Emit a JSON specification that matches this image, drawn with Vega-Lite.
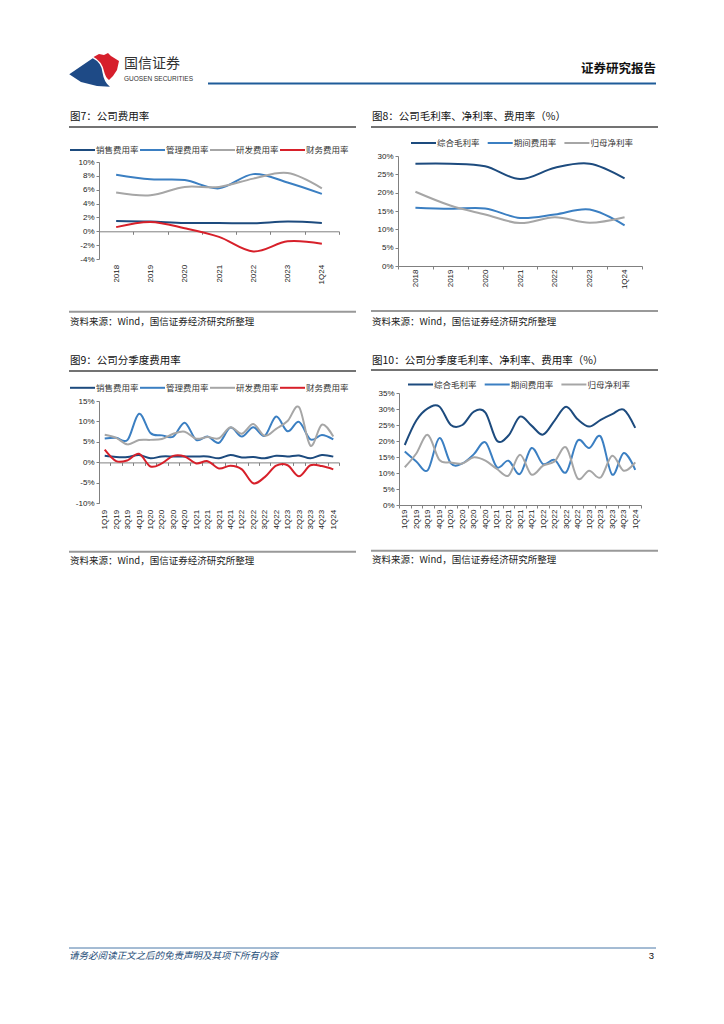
{
  "$schema": "https://vega.github.io/schema/vega-lite/v6.json",
  "padding": {"left": 68, "top": 48, "right": 69, "bottom": 54},
  "background": "white",
  "spacing": 0,
  "resolve": {"scale": {"color": "independent"}},
  "config": {
    "view": {"stroke": null},
    "axis": {"labelFont": "Liberation Sans", "labelFontSize": 8, "labelColor": "#222", "domainColor": "#808080", "tickColor": "#808080", "tickSize": 3, "grid": false, "labelPadding": 2, "domainWidth": 1, "tickWidth": 1},
    "legend": {"symbolType": "stroke", "symbolSize": 625, "symbolStrokeWidth": 2, "labelFont": "Noto Sans CJK SC", "labelFontSize": 8.5, "labelColor": "#333", "labelOffset": 0, "padding": 0, "rowPadding": 0}
  },
  "datasets": {
    "fy": [
      {"period": "2018", "销售费用率": 1.5, "管理费用率": 8.15, "研发费用率": 5.6, "财务费用率": 0.6},
      {"period": "2019", "销售费用率": 1.4, "管理费用率": 7.5, "研发费用率": 5.2, "财务费用率": 1.35},
      {"period": "2020", "销售费用率": 1.2, "管理费用率": 7.4, "研发费用率": 6.4, "财务费用率": 0.45},
      {"period": "2021", "销售费用率": 1.2, "管理费用率": 6.2, "研发费用率": 6.4, "财务费用率": -0.8},
      {"period": "2022", "销售费用率": 1.15, "管理费用率": 8.25, "研发费用率": 7.6, "财务费用率": -2.9},
      {"period": "2023", "销售费用率": 1.4, "管理费用率": 7.05, "研发费用率": 8.4, "财务费用率": -1.45},
      {"period": "1Q24", "销售费用率": 1.2, "管理费用率": 5.4, "研发费用率": 6.2, "财务费用率": -1.8}
    ],
    "fm": [
      {"period": "2018", "综合毛利率": 27.9, "期间费用率": 15.9, "归母净利率": 20.25},
      {"period": "2019", "综合毛利率": 27.9, "期间费用率": 15.6, "归母净利率": 16.5},
      {"period": "2020", "综合毛利率": 27.2, "期间费用率": 15.7, "归母净利率": 14.05},
      {"period": "2021", "综合毛利率": 23.7, "期间费用率": 13.1, "归母净利率": 11.7},
      {"period": "2022", "综合毛利率": 26.8, "期间费用率": 14.05, "归母净利率": 13.3},
      {"period": "2023", "综合毛利率": 27.9, "期间费用率": 15.4, "归母净利率": 11.8},
      {"period": "1Q24", "综合毛利率": 23.9, "期间费用率": 11.1, "归母净利率": 13.3}
    ],
    "qe": [
      {"period": "1Q19", "销售费用率": 1.6, "管理费用率": 5.85, "研发费用率": 6.75, "财务费用率": 3.1},
      {"period": "2Q19", "销售费用率": 1.3, "管理费用率": 6.0, "研发费用率": 6.0, "财务费用率": 0.3},
      {"period": "3Q19", "销售费用率": 1.3, "管理费用率": 5.5, "研发费用率": 4.4, "财务费用率": 0.5},
      {"period": "4Q19", "销售费用率": 1.8, "管理费用率": 11.9, "研发费用率": 5.45, "财务费用率": 2.1},
      {"period": "1Q20", "销售费用率": 1.0, "管理费用率": 7.2, "研发费用率": 5.5, "财务费用率": -1.0},
      {"period": "2Q20", "销售费用率": 1.45, "管理费用率": 6.6, "研发费用率": 5.7, "财务费用率": -0.25},
      {"period": "3Q20", "销售费用率": 1.45, "管理费用率": 6.3, "研发费用率": 7.0, "财务费用率": 1.6},
      {"period": "4Q20", "销售费用率": 1.45, "管理费用率": 9.7, "研发费用率": 7.5, "财务费用率": 1.45},
      {"period": "1Q21", "销售费用率": 1.45, "管理费用率": 5.5, "研发费用率": 5.8, "财务费用率": -0.25},
      {"period": "2Q21", "销售费用率": 1.45, "管理费用率": 6.3, "研发费用率": 6.2, "财务费用率": 0.3},
      {"period": "3Q21", "销售费用率": 1.0, "管理费用率": 4.8, "研发费用率": 5.9, "财务费用率": -1.5},
      {"period": "4Q21", "销售费用率": 1.8, "管理费用率": 8.5, "研发费用率": 8.6, "财务费用率": -0.8},
      {"period": "1Q22", "销售费用率": 1.2, "管理费用率": 6.3, "研发费用率": 7.0, "财务费用率": -1.7},
      {"period": "2Q22", "销售费用率": 1.3, "管理费用率": 8.6, "研发费用率": 9.35, "财务费用率": -5.1},
      {"period": "3Q22", "销售费用率": 1.0, "管理费用率": 6.5, "研发费用率": 6.5, "财务费用率": -3.6},
      {"period": "4Q22", "销售费用率": 1.6, "管理费用率": 11.2, "研发费用率": 8.2, "财务费用率": -0.8},
      {"period": "1Q23", "销售费用率": 1.45, "管理费用率": 7.6, "研发费用率": 10.1, "财务费用率": -0.7},
      {"period": "2Q23", "销售费用率": 1.7, "管理费用率": 9.9, "研发费用率": 13.5, "财务费用率": -3.4},
      {"period": "3Q23", "销售费用率": 1.0, "管理费用率": 5.6, "研发费用率": 4.1, "财务费用率": -0.7},
      {"period": "4Q23", "销售费用率": 1.8, "管理费用率": 6.7, "研发费用率": 9.2, "财务费用率": -0.9},
      {"period": "1Q24", "销售费用率": 1.4, "管理费用率": 5.6, "研发费用率": 6.3, "财务费用率": -1.7}
    ],
    "qm": [
      {"period": "1Q19", "综合毛利率": 18.75, "期间费用率": 16.7, "归母净利率": 11.8},
      {"period": "2Q19", "综合毛利率": 26.4, "期间费用率": 13.6, "归母净利率": 16.1},
      {"period": "3Q19", "综合毛利率": 30.2, "期间费用率": 10.9, "归母净利率": 21.9},
      {"period": "4Q19", "综合毛利率": 30.8, "期间费用率": 20.9, "归母净利率": 14.1},
      {"period": "1Q20", "综合毛利率": 25.0, "期间费用率": 13.0, "归母净利率": 13.3},
      {"period": "2Q20", "综合毛利率": 25.0, "期间费用率": 13.0, "归母净利率": 13.0},
      {"period": "3Q20", "综合毛利率": 29.2, "期间费用率": 15.9, "归母净利率": 14.9},
      {"period": "4Q20", "综合毛利率": 28.9, "期间费用率": 19.6, "归母净利率": 13.85},
      {"period": "1Q21", "综合毛利率": 20.1, "期间费用率": 11.8, "归母净利率": 11.25},
      {"period": "2Q21", "综合毛利率": 21.7, "期间费用率": 13.85, "归母净利率": 9.2},
      {"period": "3Q21", "综合毛利率": 27.6, "期间费用率": 9.7, "归母净利率": 15.7},
      {"period": "4Q21", "综合毛利率": 24.8, "期间费用率": 17.8, "归母净利率": 9.5},
      {"period": "1Q22", "综合毛利率": 22.0, "期间费用率": 12.8, "归母净利率": 12.3},
      {"period": "2Q22", "综合毛利率": 26.4, "期间费用率": 14.1, "归母净利率": 13.6},
      {"period": "3Q22", "综合毛利率": 30.7, "期间费用率": 10.2, "归母净利率": 18.0},
      {"period": "4Q22", "综合毛利率": 26.8, "期间费用率": 20.1, "归母净利率": 8.3},
      {"period": "1Q23", "综合毛利率": 24.5, "期间费用率": 17.8, "归母净利率": 10.7},
      {"period": "2Q23", "综合毛利率": 26.6, "期间费用率": 21.4, "归母净利率": 8.6},
      {"period": "3Q23", "综合毛利率": 28.4, "期间费用率": 9.5, "归母净利率": 15.4},
      {"period": "4Q23", "综合毛利率": 29.8, "期间费用率": 16.25, "归母净利率": 10.7},
      {"period": "1Q24", "综合毛利率": 24.1, "期间费用率": 11.0, "归母净利率": 13.3}
    ]
  },
  "vconcat": [
    {
      "width": 557, "height": 40,
      "data": {"values": [{}]},
      "layer": [
        {"mark": {"type": "point", "shape": "M-0.99,0.17L-0.05,-0.47Q0.3,-0.3 0.34,0.1Q0.4,0.5 0.64,0.67L0.12,0.64L-0.52,0.48Z", "filled": true, "color": "#1E4A86", "opacity": 1, "size": 2500, "strokeWidth": 0},
         "encoding": {"x": {"datum": 93, "type": "quantitative", "scale": {"domain": [98, 655], "nice": false, "zero": false}, "axis": null},
                      "y": {"datum": 22, "type": "quantitative", "scale": {"domain": [0, 40], "nice": false, "zero": false, "reverse": true}, "axis": null}}},
        {"mark": {"type": "point", "shape": "M-0.02,-0.52L0.2,-0.64L0.4,-0.6L0.56,-0.68L0.68,-0.56L1,-0.36L0.92,0L0.76,0.24L0.6,0.4Q0.46,0.3 0.4,0.05Q0.32,-0.35 -0.02,-0.52Z", "filled": true, "color": "#D61F2C", "opacity": 1, "size": 2500, "strokeWidth": 0},
         "encoding": {"x": {"datum": 93, "type": "quantitative"}, "y": {"datum": 22, "type": "quantitative"}}},
        {"mark": {"type": "text", "text": "国信证券", "align": "left", "baseline": "middle", "font": "Noto Sans CJK SC", "fontSize": 14, "color": "#333"},
         "encoding": {"x": {"datum": 123, "type": "quantitative"}, "y": {"datum": 15.5, "type": "quantitative"}}},
        {"mark": {"type": "text", "text": "GUOSEN SECURITIES", "align": "left", "baseline": "middle", "font": "Liberation Sans", "fontSize": 6.5, "color": "#333"},
         "encoding": {"x": {"datum": 123, "type": "quantitative"}, "y": {"datum": 31, "type": "quantitative"}}},
        {"mark": {"type": "text", "text": "证券研究报告", "align": "right", "baseline": "middle", "font": "Noto Sans CJK SC", "fontSize": 12.5, "fontWeight": "bold", "color": "#111"},
         "encoding": {"x": {"datum": 655, "type": "quantitative"}, "y": {"datum": 21, "type": "quantitative"}}},
        {"mark": {"type": "rule", "color": "#1F5C99", "strokeWidth": 2},
         "encoding": {"x": {"datum": 207, "type": "quantitative"}, "x2": {"datum": 655}, "y": {"datum": 35.5, "type": "quantitative"}}}
      ]
    },
    {
      "hconcat": [
        {
          "spacing": 0,
          "resolve": {"scale": {"color": "independent"}},
          "vconcat": [
            {
              "width": 240, "height": 47.5,
              "data": {"values": [{}]},
              "layer": [
                {"mark": {"type": "text", "text": "图7：公司费用率", "align": "left", "baseline": "middle", "font": "Noto Sans CJK SC", "fontSize": 10.5, "color": "#111"},
                 "encoding": {"x": {"datum": 69, "type": "quantitative", "scale": {"domain": [98, 338], "nice": false, "zero": false}, "axis": null},
                              "y": {"datum": 29, "type": "quantitative", "scale": {"domain": [0, 47.5], "nice": false, "zero": false, "reverse": true}, "axis": null}}},
                {"mark": {"type": "rule", "color": "#444", "strokeWidth": 1.3},
                 "encoding": {"x": {"datum": 68, "type": "quantitative"}, "x2": {"datum": 355}, "y": {"datum": 39, "type": "quantitative"}}}
              ]
            },
            {
              "width": 240, "height": 97,
              "data": {"name": "fy"},
              "transform": [{"fold": ["销售费用率", "管理费用率", "研发费用率", "财务费用率"], "as": ["series", "value"]}],
              "mark": {"type": "line", "interpolate": "cardinal", "strokeWidth": 2},
              "encoding": {
                "x": {"field": "period", "type": "ordinal", "scale": {"type": "band", "domain": ["2018", "2019", "2020", "2021", "2022", "2023", "1Q24"], "paddingInner": 0, "paddingOuter": 0},
                      "axis": {"title": null, "labelAngle": -90, "offset": -27.7, "labelPadding": 30, "minExtent": 70, "maxExtent": 70, "tickBand": "extent", "labelOverlap": false}},
                "y": {"field": "value", "type": "quantitative", "scale": {"domain": [-4, 10], "nice": false, "zero": false},
                      "axis": {"title": null, "values": [-4, -2, 0, 2, 4, 6, 8, 10], "labelExpr": "datum.value + '%'", "minExtent": 30, "maxExtent": 30}},
                "color": {"field": "series", "type": "nominal", "scale": {"domain": ["销售费用率", "管理费用率", "研发费用率", "财务费用率"], "range": ["#1D4B7E", "#3B7FC2", "#A6A6A6", "#D7202A"]},
                          "legend": {"title": null, "orient": "none", "legendX": -30, "legendY": -25.5, "direction": "horizontal", "columns": 4, "columnPadding": -3.3}},
                "order": {"value": null}
              }
            },
            {
              "width": 240, "height": 30,
              "data": {"values": [{}]},
              "layer": [
                {"mark": {"type": "rule", "color": "#999", "strokeWidth": 2},
                 "encoding": {"x": {"datum": 68, "type": "quantitative", "scale": {"domain": [98, 338], "nice": false, "zero": false}, "axis": null}, "x2": {"datum": 355},
                              "y": {"datum": 9.7, "type": "quantitative", "scale": {"domain": [0, 30], "nice": false, "zero": false, "reverse": true}, "axis": null}}},
                {"mark": {"type": "text", "text": "资料来源：Wind，国信证券经济研究所整理", "align": "left", "baseline": "middle", "font": "Noto Sans CJK SC", "fontSize": 9.5, "color": "#222"},
                 "encoding": {"x": {"datum": 69, "type": "quantitative"}, "y": {"datum": 20.4, "type": "quantitative"}}}
              ]
            }
          ]
        },
        {
          "spacing": 0,
          "resolve": {"scale": {"color": "independent"}},
          "vconcat": [
            {
              "width": 244, "height": 40.5,
              "data": {"values": [{}]},
              "layer": [
                {"mark": {"type": "text", "text": "图8：公司毛利率、净利率、费用率（%）", "align": "left", "baseline": "middle", "font": "Noto Sans CJK SC", "fontSize": 10.5, "color": "#111"},
                 "encoding": {"x": {"datum": 369, "type": "quantitative", "scale": {"domain": [395, 639], "nice": false, "zero": false}, "axis": null},
                              "y": {"datum": 29, "type": "quantitative", "scale": {"domain": [0, 40.5], "nice": false, "zero": false, "reverse": true}, "axis": null}}},
                {"mark": {"type": "rule", "color": "#444", "strokeWidth": 1.3},
                 "encoding": {"x": {"datum": 368, "type": "quantitative"}, "x2": {"datum": 655}, "y": {"datum": 39, "type": "quantitative"}}}
              ]
            },
            {
              "width": 244, "height": 110,
              "data": {"name": "fm"},
              "transform": [{"fold": ["综合毛利率", "期间费用率", "归母净利率"], "as": ["series", "value"]}],
              "mark": {"type": "line", "interpolate": "cardinal", "strokeWidth": 2},
              "encoding": {
                "x": {"field": "period", "type": "ordinal", "scale": {"type": "band", "domain": ["2018", "2019", "2020", "2021", "2022", "2023", "1Q24"], "paddingInner": 0, "paddingOuter": 0},
                      "axis": {"title": null, "labelAngle": -90, "labelPadding": 0, "minExtent": 35, "maxExtent": 35, "tickBand": "extent", "labelOverlap": false}},
                "y": {"field": "value", "type": "quantitative", "scale": {"domain": [0, 30], "nice": false, "zero": false},
                      "axis": {"title": null, "values": [0, 5, 10, 15, 20, 25, 30], "labelExpr": "datum.value + '%'", "minExtent": 27, "maxExtent": 27}},
                "color": {"field": "series", "type": "nominal", "scale": {"domain": ["综合毛利率", "期间费用率", "归母净利率"], "range": ["#1D4B7E", "#3B7FC2", "#A6A6A6"]},
                          "legend": {"title": null, "orient": "none", "legendX": 12, "legendY": -26.5, "direction": "horizontal", "columns": 3, "columnPadding": 3.7}},
                "order": {"value": null}
              }
            },
            {
              "width": 244, "height": 30.3,
              "data": {"values": [{}]},
              "layer": [
                {"mark": {"type": "rule", "color": "#999", "strokeWidth": 2},
                 "encoding": {"x": {"datum": 368, "type": "quantitative", "scale": {"domain": [395, 639], "nice": false, "zero": false}, "axis": null}, "x2": {"datum": 655},
                              "y": {"datum": 10, "type": "quantitative", "scale": {"domain": [0, 30.3], "nice": false, "zero": false, "reverse": true}, "axis": null}}},
                {"mark": {"type": "text", "text": "资料来源：Wind，国信证券经济研究所整理", "align": "left", "baseline": "middle", "font": "Noto Sans CJK SC", "fontSize": 9.5, "color": "#222"},
                 "encoding": {"x": {"datum": 369, "type": "quantitative"}, "y": {"datum": 20.7, "type": "quantitative"}}}
              ]
            }
          ]
        }
      ],
      "spacing": 13,
      "resolve": {"scale": {"color": "independent"}}
    },
    {
      "hconcat": [
        {
          "spacing": 0,
          "resolve": {"scale": {"color": "independent"}},
          "vconcat": [
            {
              "width": 240, "height": 41.7,
              "data": {"values": [{}]},
              "layer": [
                {"mark": {"type": "text", "text": "图9：公司分季度费用率", "align": "left", "baseline": "middle", "font": "Noto Sans CJK SC", "fontSize": 10.5, "color": "#111"},
                 "encoding": {"x": {"datum": 69, "type": "quantitative", "scale": {"domain": [98, 338], "nice": false, "zero": false}, "axis": null},
                              "y": {"datum": 29, "type": "quantitative", "scale": {"domain": [0, 41.7], "nice": false, "zero": false, "reverse": true}, "axis": null}}},
                {"mark": {"type": "rule", "color": "#444", "strokeWidth": 1.3},
                 "encoding": {"x": {"datum": 68, "type": "quantitative"}, "x2": {"datum": 355}, "y": {"datum": 39, "type": "quantitative"}}}
              ]
            },
            {
              "width": 240, "height": 102.3,
              "data": {"name": "qe"},
              "transform": [{"fold": ["销售费用率", "管理费用率", "研发费用率", "财务费用率"], "as": ["series", "value"]}],
              "mark": {"type": "line", "interpolate": "cardinal", "strokeWidth": 2},
              "encoding": {
                "x": {"field": "period", "type": "ordinal", "scale": {"type": "band", "domain": ["1Q19", "2Q19", "3Q19", "4Q19", "1Q20", "2Q20", "3Q20", "4Q20", "1Q21", "2Q21", "3Q21", "4Q21", "1Q22", "2Q22", "3Q22", "4Q22", "1Q23", "2Q23", "3Q23", "4Q23", "1Q24"], "paddingInner": 0, "paddingOuter": 0},
                      "axis": {"title": null, "labelAngle": -90, "offset": -40.9, "labelPadding": 43.9, "minExtent": 78.9, "maxExtent": 78.9, "tickBand": "extent", "labelOverlap": false}},
                "y": {"field": "value", "type": "quantitative", "scale": {"domain": [-10, 15], "nice": false, "zero": false},
                      "axis": {"title": null, "values": [-10, -5, 0, 5, 10, 15], "labelExpr": "datum.value + '%'", "minExtent": 30, "maxExtent": 30}},
                "color": {"field": "series", "type": "nominal", "scale": {"domain": ["销售费用率", "管理费用率", "研发费用率", "财务费用率"], "range": ["#1D4B7E", "#3B7FC2", "#A6A6A6", "#D7202A"]},
                          "legend": {"title": null, "orient": "none", "legendX": -30, "legendY": -26.7, "direction": "horizontal", "columns": 4, "columnPadding": -3.3}},
                "order": {"value": null}
              }
            },
            {
              "width": 240, "height": 28,
              "data": {"values": [{}]},
              "layer": [
                {"mark": {"type": "rule", "color": "#999", "strokeWidth": 2},
                 "encoding": {"x": {"datum": 68, "type": "quantitative", "scale": {"domain": [98, 338], "nice": false, "zero": false}, "axis": null}, "x2": {"datum": 355},
                              "y": {"datum": 9.7, "type": "quantitative", "scale": {"domain": [0, 28], "nice": false, "zero": false, "reverse": true}, "axis": null}}},
                {"mark": {"type": "text", "text": "资料来源：Wind，国信证券经济研究所整理", "align": "left", "baseline": "middle", "font": "Noto Sans CJK SC", "fontSize": 9.5, "color": "#222"},
                 "encoding": {"x": {"datum": 69, "type": "quantitative"}, "y": {"datum": 18.7, "type": "quantitative"}}}
              ]
            }
          ]
        },
        {
          "spacing": 0,
          "resolve": {"scale": {"color": "independent"}},
          "vconcat": [
            {
              "width": 242, "height": 38.7,
              "data": {"values": [{}]},
              "layer": [
                {"mark": {"type": "text", "text": "图10：公司分季度毛利率、净利率、费用率（%）", "align": "left", "baseline": "middle", "font": "Noto Sans CJK SC", "fontSize": 10.5, "color": "#111"},
                 "encoding": {"x": {"datum": 369, "type": "quantitative", "scale": {"domain": [396, 638], "nice": false, "zero": false}, "axis": null},
                              "y": {"datum": 29, "type": "quantitative", "scale": {"domain": [0, 38.7], "nice": false, "zero": false, "reverse": true}, "axis": null}}},
                {"mark": {"type": "rule", "color": "#444", "strokeWidth": 1.3},
                 "encoding": {"x": {"datum": 368, "type": "quantitative"}, "x2": {"datum": 655}, "y": {"datum": 38, "type": "quantitative"}}}
              ]
            },
            {
              "width": 242, "height": 112,
              "data": {"name": "qm"},
              "transform": [{"fold": ["综合毛利率", "期间费用率", "归母净利率"], "as": ["series", "value"]}],
              "mark": {"type": "line", "interpolate": "cardinal", "strokeWidth": 2},
              "encoding": {
                "x": {"field": "period", "type": "ordinal", "scale": {"type": "band", "domain": ["1Q19", "2Q19", "3Q19", "4Q19", "1Q20", "2Q20", "3Q20", "4Q20", "1Q21", "2Q21", "3Q21", "4Q21", "1Q22", "2Q22", "3Q22", "4Q22", "1Q23", "2Q23", "3Q23", "4Q23", "1Q24"], "paddingInner": 0, "paddingOuter": 0},
                      "axis": {"title": null, "labelAngle": -90, "labelPadding": 1, "minExtent": 36, "maxExtent": 36, "tickBand": "extent", "labelOverlap": false}},
                "y": {"field": "value", "type": "quantitative", "scale": {"domain": [0, 35], "nice": false, "zero": false},
                      "axis": {"title": null, "values": [0, 5, 10, 15, 20, 25, 30, 35], "labelExpr": "datum.value + '%'", "minExtent": 28, "maxExtent": 28}},
                "color": {"field": "series", "type": "nominal", "scale": {"domain": ["综合毛利率", "期间费用率", "归母净利率"], "range": ["#1D4B7E", "#3B7FC2", "#A6A6A6"]},
                          "legend": {"title": null, "orient": "none", "legendX": 8, "legendY": -22, "direction": "horizontal", "columns": 3, "columnPadding": 3.7}},
                "order": {"value": null}
              }
            },
            {
              "width": 242, "height": 28,
              "data": {"values": [{}]},
              "layer": [
                {"mark": {"type": "rule", "color": "#999", "strokeWidth": 2},
                 "encoding": {"x": {"datum": 368, "type": "quantitative", "scale": {"domain": [396, 638], "nice": false, "zero": false}, "axis": null}, "x2": {"datum": 655},
                              "y": {"datum": 9.7, "type": "quantitative", "scale": {"domain": [0, 28], "nice": false, "zero": false, "reverse": true}, "axis": null}}},
                {"mark": {"type": "text", "text": "资料来源：Wind，国信证券经济研究所整理", "align": "left", "baseline": "middle", "font": "Noto Sans CJK SC", "fontSize": 9.5, "color": "#222"},
                 "encoding": {"x": {"datum": 369, "type": "quantitative"}, "y": {"datum": 18.7, "type": "quantitative"}}}
              ]
            }
          ]
        }
      ],
      "spacing": 13,
      "resolve": {"scale": {"color": "independent"}}
    },
    {
      "width": 557, "height": 400,
      "data": {"values": [{}]},
      "layer": [
        {"mark": {"type": "rule", "color": "#4A78A8", "strokeWidth": 1},
         "encoding": {"x": {"datum": 68, "type": "quantitative", "scale": {"domain": [98, 655], "nice": false, "zero": false}, "axis": null}, "x2": {"datum": 655},
                      "y": {"datum": 378, "type": "quantitative", "scale": {"domain": [0, 400], "nice": false, "zero": false, "reverse": true}, "axis": null}}},
        {"mark": {"type": "text", "text": "请务必阅读正文之后的免责声明及其项下所有内容", "align": "left", "baseline": "middle", "font": "Noto Sans CJK SC", "fontSize": 9.5, "fontStyle": "italic", "color": "#1F4E79"},
         "encoding": {"x": {"datum": 68, "type": "quantitative"}, "y": {"datum": 386, "type": "quantitative"}}},
        {"mark": {"type": "text", "text": "3", "align": "right", "baseline": "middle", "font": "Liberation Sans", "fontSize": 9.5, "color": "#111"},
         "encoding": {"x": {"datum": 653, "type": "quantitative"}, "y": {"datum": 386, "type": "quantitative"}}}
      ]
    }
  ]
}
